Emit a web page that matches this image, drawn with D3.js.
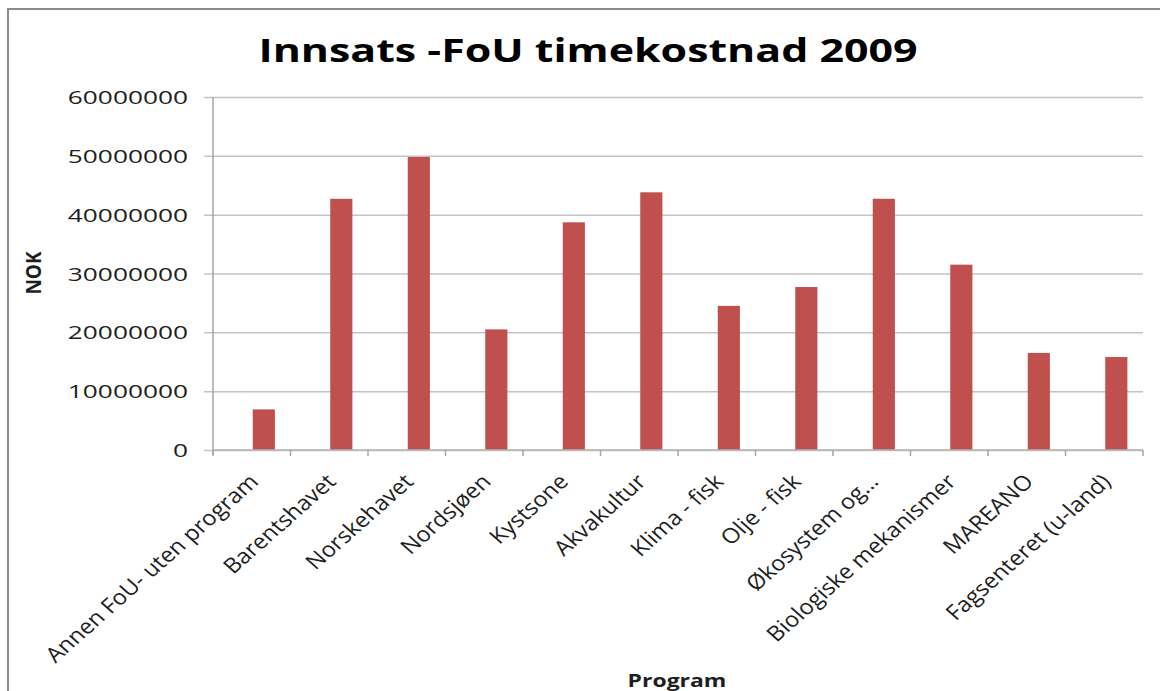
<!DOCTYPE html>
<html>
<head>
<meta charset="utf-8">
<script src="https://cdn.jsdelivr.net/npm/d3@7"></script>
<style>
    html, body { margin: 0; padding: 0; background: #fff; }
    svg { display: block; }
    text { font-family: "Open Sans", sans-serif; fill: #1e1e1e; }
</style>
</head>
<body>
<div id="chart"></div>
<script>
// Chart data
const programs = [
    'Annen FoU- uten program', 'Barentshavet', 'Norskehavet', 'Nordsjøen',
    'Kystsone', 'Akvakultur', 'Klima - fisk', 'Olje - fisk',
    'Økosystem og…', 'Biologiske mekanismer', 'MAREANO', 'Fagsenteret (u-land)'
];
const nok = [
    6900000, 42700000, 49800000, 20500000,
    38700000, 43800000, 24500000, 27700000,
    42700000, 31500000, 16500000, 15800000
];
const yTicks = [0, 10000000, 20000000, 30000000, 40000000, 50000000, 60000000];

const titleText = 'Innsats -FoU timekostnad 2009';
const xTitle = 'Program';
const yTitle = 'NOK';

// Layout
const WIDTH = 1160;
const HEIGHT = 691;
// the source picture is stretched sideways, so text gets a horizontal scale
const SX_TITLE = 1.30;
const SX_TICK = 1.46;
const SX_LABEL = 1.13;
const BAR_COLOR = '#C0504D';
const plot = { left: 213, right: 1143, top: 97, bottom: 450 };

const svg = d3.select('#chart')
    .append('svg')
    .attr('width', WIDTH)
    .attr('height', HEIGHT);

// Outer chart frame (runs off the right and bottom edge)
svg.append('rect')
    .attr('x', 8)
    .attr('y', 9)
    .attr('width', 1300)
    .attr('height', 900)
    .style('fill', 'none')
    .style('stroke', '#8c8c8c')
    .style('stroke-width', 2);

const x = d3.scaleBand()
    .domain(programs)
    .range([plot.left, plot.right]);

const y = d3.scaleLinear()
    .domain([0, 60000000])
    .range([plot.bottom, plot.top]);

// Gridlines + y axis
const yAxis = svg.append('g')
    .attr('transform', `translate(${plot.left},0)`)
    .call(d3.axisLeft(y)
        .tickValues(yTicks)
        .tickSize(-(plot.right - plot.left))
        .tickSizeOuter(0)
        .tickFormat(d3.format('d')));

yAxis.select('.domain').remove();
yAxis.selectAll('.tick line')
    .attr('x1', -9)
    .style('stroke', '#c4c4c4')
    .style('stroke-width', 1.5);
yAxis.selectAll('.tick text')
    .attr('x', null)
    .attr('dy', null)
    .attr('transform', `translate(-25,6.5) scale(${SX_TICK},1)`)
    .style('font-size', '18px')
    .style('fill', '#1e1e1e');
yAxis.attr('font-family', null).attr('font-size', null);

// Vertical axis line
svg.append('line')
    .attr('x1', plot.left).attr('x2', plot.left)
    .attr('y1', plot.top).attr('y2', plot.bottom + 5)
    .style('stroke', '#a6a6a6')
    .style('stroke-width', 1.5);

// Bars: Excel clustered layout, the visible series sits in the right slot
const barW = x.bandwidth() / 3.5;
svg.append('g')
    .selectAll('rect')
    .data(programs)
    .join('rect')
    .attr('x', d => x(d) + x.bandwidth() / 2 + 1)
    .attr('width', barW)
    .attr('y', (d, i) => y(nok[i]))
    .attr('height', (d, i) => y(0) - y(nok[i]))
    .style('fill', BAR_COLOR);

// x axis line and ticks at category boundaries
const xAxis = svg.append('g')
    .attr('transform', `translate(0,${plot.bottom})`);

xAxis.append('line')
    .attr('x1', plot.left).attr('x2', plot.right)
    .style('stroke', '#b4b4b4')
    .style('stroke-width', 1.5);

xAxis.selectAll('.xtick')
    .data(programs.concat(['end']))
    .join('line')
    .attr('class', 'xtick')
    .attr('x1', d => d === 'end' ? plot.right : x(d))
    .attr('x2', d => d === 'end' ? plot.right : x(d))
    .attr('y1', 0)
    .attr('y2', 6)
    .style('stroke', '#a6a6a6')
    .style('stroke-width', 1.5);

// Rotated category labels
xAxis.selectAll('.xlabel')
    .data(programs)
    .join('text')
    .attr('class', 'xlabel')
    .attr('text-anchor', 'end')
    .attr('transform', d => `translate(${x(d) + x.bandwidth() / 2 + 8},${33}) scale(${SX_LABEL},1) rotate(-45)`)
    .style('font-size', '21px')
    .text(d => d);

// Titles
svg.append('text')
    .attr('text-anchor', 'middle')
    .attr('transform', `translate(588,62) scale(${SX_TITLE},1)`)
    .style('font-size', '33px')
    .style('font-weight', 'bold')
    .style('fill', '#000')
    .text(titleText);

svg.append('text')
    .attr('text-anchor', 'middle')
    .attr('transform', `translate(677,687) scale(1.35,1)`)
    .style('font-size', '17px')
    .style('font-weight', 'bold')
    .text(xTitle);

svg.append('text')
    .attr('text-anchor', 'middle')
    .attr('transform', `translate(41,273) scale(1.15,1) rotate(-90)`)
    .style('font-size', '19px')
    .style('font-weight', 'bold')
    .text(yTitle);
</script>
</body>
</html>
